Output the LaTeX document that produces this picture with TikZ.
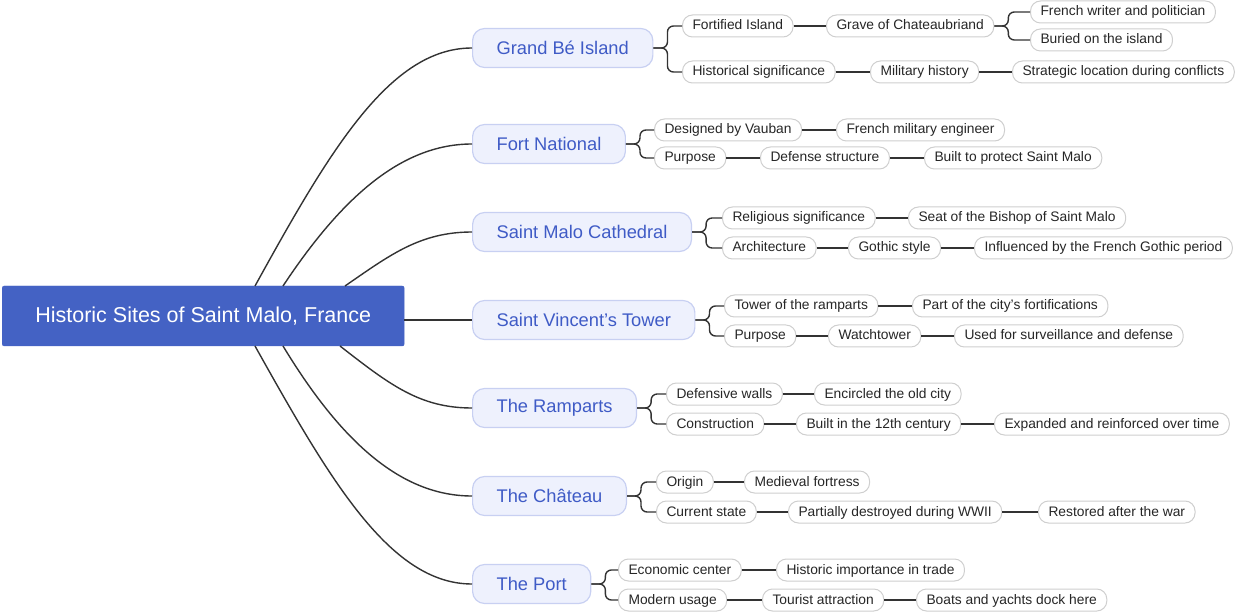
\documentclass[tikz,border=0pt]{standalone}
\usepackage{fontspec}
\setmainfont{Liberation Sans}
\definecolor{rootc}{HTML}{4462C4}
\definecolor{lonef}{HTML}{EEF1FD}
\definecolor{loned}{HTML}{C8D0F2}
\definecolor{lonet}{HTML}{3F5BC6}
\definecolor{leafd}{HTML}{CFCFCF}
\definecolor{linec}{HTML}{333333}
\tikzset{
 rootbox/.style={fill=rootc,draw=rootc,text=white,rounded corners=2,minimum width=402,minimum height=60,font=\fontsize{21.5}{25}\selectfont,anchor=west},
 lone/.style={fill=lonef,draw=loned,line width=1.2,text=lonet,rounded corners=12,minimum height=39,inner xsep=24,font=\fontsize{18.3}{22}\selectfont,anchor=west},
 leaf/.style={fill=white,draw=leafd,line width=1,text=black!85,rounded corners=10,minimum height=22,inner xsep=10,inner ysep=2,text height=10.5,text depth=2.5,font=\fontsize{13.8}{15}\selectfont,anchor=west},
 conn/.style={draw=linec,line width=1.4},
}
\newcommand{\br}[2]{\draw[conn,rounded corners=6] (#1.east) -- ++(14,0) |- (#2.west);}
\newcommand{\st}[2]{\draw[conn] (#1.east) -- (#2.west);}
\begin{document}
\begin{tikzpicture}[x=1pt,y=-1pt]
\useasboundingbox (0,0) rectangle (1240,612);
\node[rootbox] (root) at (2,316) {Historic Sites of Saint Malo, France};
\node[lone] (g) at (472,48) {Grand Bé Island};
\node[lone] (f) at (472,144) {Fort National};
\node[lone] (c) at (472,232) {Saint Malo Cathedral};
\node[lone] (t) at (472,320) {Saint Vincent's Tower};
\node[lone] (r) at (472,408) {The Ramparts};
\node[lone] (h) at (472,496) {The Château};
\node[lone] (p) at (472,584) {The Port};
\coordinate (s1) at (255,286);
\coordinate (s2) at (283,286);
\coordinate (s3) at (345,286);
\coordinate (s5) at (340,346);
\coordinate (s6) at (283,346);
\coordinate (s7) at (255,346);
\draw[conn] (s1) .. controls (330,150) and (390,48) .. (g.west);
\draw[conn] (s2) .. controls (340,200) and (400,144) .. (f.west);
\draw[conn] (s3) .. controls (390,255) and (420,232) .. (c.west);
\draw[conn] (root.east |- t.west) -- (t.west);
\draw[conn] (s5) .. controls (390,385) and (420,408) .. (r.west);
\draw[conn] (s6) .. controls (340,440) and (400,496) .. (h.west);
\draw[conn] (s7) .. controls (330,480) and (390,584) .. (p.west);
% Grand Be
\node[leaf] (g1) at (682,26) {Fortified Island};
\node[leaf] (g11) at (826,26) {Grave of Chateaubriand};
\node[leaf] (g111) at (1030,12) {French writer and politician};
\node[leaf] (g112) at (1030,40) {Buried on the island};
\node[leaf] (g2) at (682,72) {Historical significance};
\node[leaf] (g21) at (870,72) {Military history};
\node[leaf] (g211) at (1012,72) {Strategic location during conflicts};
\br{g}{g1}\br{g}{g2}\st{g1}{g11}\br{g11}{g111}\br{g11}{g112}\st{g2}{g21}\st{g21}{g211}
% Fort
\node[leaf] (f1) at (654,130) {Designed by Vauban};
\node[leaf] (f11) at (836,130) {French military engineer};
\node[leaf] (f2) at (654,158) {Purpose};
\node[leaf] (f21) at (760,158) {Defense structure};
\node[leaf] (f211) at (924,158) {Built to protect Saint Malo};
\br{f}{f1}\br{f}{f2}\st{f1}{f11}\st{f2}{f21}\st{f21}{f211}
% Cathedral
\node[leaf] (c1) at (722,218) {Religious significance};
\node[leaf] (c11) at (908,218) {Seat of the Bishop of Saint Malo};
\node[leaf] (c2) at (722,248) {Architecture};
\node[leaf] (c21) at (848,248) {Gothic style};
\node[leaf] (c211) at (974,248) {Influenced by the French Gothic period};
\br{c}{c1}\br{c}{c2}\st{c1}{c11}\st{c2}{c21}\st{c21}{c211}
% Tower
\node[leaf] (t1) at (724,306) {Tower of the ramparts};
\node[leaf] (t11) at (912,306) {Part of the city's fortifications};
\node[leaf] (t2) at (724,336) {Purpose};
\node[leaf] (t21) at (828,336) {Watchtower};
\node[leaf] (t211) at (954,336) {Used for surveillance and defense};
\br{t}{t1}\br{t}{t2}\st{t1}{t11}\st{t2}{t21}\st{t21}{t211}
% Ramparts
\node[leaf] (r1) at (666,394) {Defensive walls};
\node[leaf] (r11) at (814,394) {Encircled the old city};
\node[leaf] (r2) at (666,424) {Construction};
\node[leaf] (r21) at (796,424) {Built in the 12th century};
\node[leaf] (r211) at (994,424) {Expanded and reinforced over time};
\br{r}{r1}\br{r}{r2}\st{r1}{r11}\st{r2}{r21}\st{r21}{r211}
% Chateau
\node[leaf] (h1) at (656,482) {Origin};
\node[leaf] (h11) at (744,482) {Medieval fortress};
\node[leaf] (h2) at (656,512) {Current state};
\node[leaf] (h21) at (788,512) {Partially destroyed during WWII};
\node[leaf] (h211) at (1038,512) {Restored after the war};
\br{h}{h1}\br{h}{h2}\st{h1}{h11}\st{h2}{h21}\st{h21}{h211}
% Port
\node[leaf] (p1) at (618,570) {Economic center};
\node[leaf] (p11) at (776,570) {Historic importance in trade};
\node[leaf] (p2) at (618,600) {Modern usage};
\node[leaf] (p21) at (762,600) {Tourist attraction};
\node[leaf] (p211) at (916,600) {Boats and yachts dock here};
\br{p}{p1}\br{p}{p2}\st{p1}{p11}\st{p2}{p21}\st{p21}{p211}
\end{tikzpicture}
\end{document}
